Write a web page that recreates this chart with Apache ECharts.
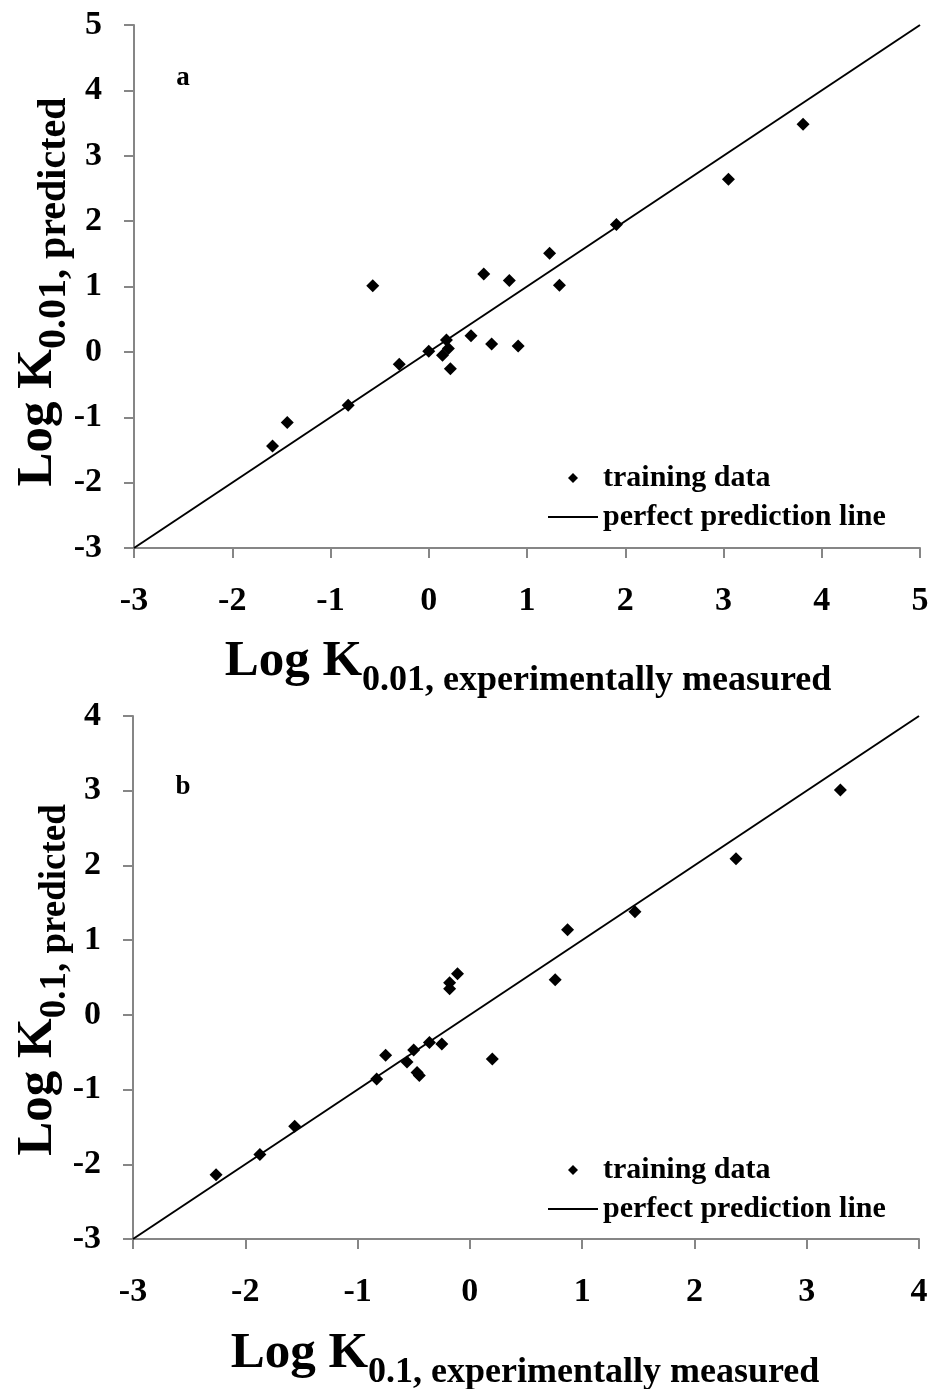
<!DOCTYPE html>
<html><head><meta charset="utf-8">
<script src="https://cdn.jsdelivr.net/npm/echarts@6/dist/echarts.min.js"></script>
<style>html,body{margin:0;padding:0;background:#fff}#c{width:933px;height:1389px}</style>
</head><body><div id="c"></div>
<script>
// Panel a: Log K0.01
var aMeasured  = [-1.59,-1.44,-0.82,-0.57,-0.30,0.00,0.14,0.18,0.20,0.22,0.43,0.64,0.91,0.56,0.82,1.23,1.33,1.91,3.05,3.81];
var aPredicted = [-1.44,-1.08,-0.815,1.01,-0.19,0.01,-0.05,0.18,0.05,-0.26,0.245,0.12,0.09,1.19,1.09,1.51,1.02,1.95,2.64,3.48];
var aLine = [-3, 5];
// Panel b: Log K0.1
var bMeasured  = [-2.26,-1.87,-1.56,-0.83,-0.75,-0.56,-0.50,-0.47,-0.45,-0.36,-0.25,-0.18,-0.18,-0.11,0.20,0.76,0.87,1.47,2.37,3.30];
var bPredicted = [-2.14,-1.87,-1.49,-0.86,-0.54,-0.63,-0.47,-0.77,-0.81,-0.37,-0.39,0.43,0.35,0.55,-0.59,0.47,1.14,1.38,2.09,3.01];
var bLine = [-3, 4];
var seriesNames = ['training data', 'perfect prediction line'];

function pairs(xs, ys){ return xs.map(function(x,i){ return [x, ys[i]]; }); }
var FONT = '"Liberation Serif","Times New Roman",serif';
var AX = '#868686';

function axis(min, max, gi, isX){
  return {
    type:'value', gridIndex:gi, min:min, max:max, interval:1,
    axisLine:{show:true, onZero:false, lineStyle:{color:AX, width:2}},
    axisTick:{show:true, inside:false, length:10, lineStyle:{color:AX, width:2}},
    splitLine:{show:false},
    axisLabel:{fontFamily:FONT, fontWeight:'bold', fontSize:34, color:'#000', margin: isX ? 36 : 32}
  };
}

function rich(bigSize, subSize, drop){
  return {
    big:{fontFamily:FONT, fontWeight:'bold', fontSize:bigSize, color:'#000', lineHeight:bigSize+8, verticalAlign:'top'},
    sub:{fontFamily:FONT, fontWeight:'bold', fontSize:subSize, color:'#000', lineHeight:subSize, padding:[drop,0,0,0]}
  };
}
function title(txt, sub, x, y, rot, r){
  return {type:'text', x:x, y:y, rotation:rot, style:{text:'{big|'+txt+'}{sub|'+sub+'}', rich:r, align:'center', verticalAlign:'middle'}};
}
function label(t, x, y){
  return {type:'text', x:x, y:y, style:{text:t, fontFamily:FONT, fontWeight:'bold', fontSize:27, fill:'#000', align:'center', verticalAlign:'middle'}};
}
function legend(top){
  return {
    orient:'vertical', left:543, top:top, itemWidth:50, itemHeight:10, itemGap:9,
    symbolKeepAspect:true,
    textStyle:{fontFamily:FONT, fontWeight:'bold', fontSize:30, color:'#000', lineHeight:30},
    data:[{name:seriesNames[0], icon:'path://M0,-1L1,0L0,1L-1,0Z'},
          {name:seriesNames[1], icon:'path://M0,0H50V2H0Z'}]
  };
}

var option = {
  animation:false,
  backgroundColor:'#fff',
  grid:[
    {left:134, top:25, width:786, height:523},
    {left:133, top:716, width:786, height:523}
  ],
  xAxis:[axis(-3,5,0,true), axis(-3,4,1,true)],
  yAxis:[axis(-3,5,0,false), axis(-3,4,1,false)],
  legend:[legend(458), legend(1150)],
  series:[
    {name:seriesNames[1], type:'line', xAxisIndex:0, yAxisIndex:0, data:pairs(aLine,aLine), symbol:'none', lineStyle:{color:'#000', width:2}, itemStyle:{color:'#000'}},
    {name:seriesNames[0], type:'scatter', xAxisIndex:0, yAxisIndex:0, data:pairs(aMeasured,aPredicted), symbol:'diamond', symbolSize:13, itemStyle:{color:'#000', opacity:1}},
    {name:seriesNames[1], type:'line', xAxisIndex:1, yAxisIndex:1, data:pairs(bLine,bLine), symbol:'none', lineStyle:{color:'#000', width:2}, itemStyle:{color:'#000'}},
    {name:seriesNames[0], type:'scatter', xAxisIndex:1, yAxisIndex:1, data:pairs(bMeasured,bPredicted), symbol:'diamond', symbolSize:13, itemStyle:{color:'#000', opacity:1}}
  ],
  graphic:[
    label('a', 183, 78),
    label('b', 183, 787),
    title('Log K', '0.01, experimentally measured', 528, 666, 0, rich(51, 36, 30)),
    title('Log K', '0.1, experimentally measured', 525, 1358, 0, rich(51, 36, 30)),
    title('Log K', '0.01, predicted', 42, 292, Math.PI/2, rich(51, 40, 26)),
    title('Log K', '0.1, predicted', 42, 980, Math.PI/2, rich(51, 37, 27))
  ]
};
var chart = echarts.init(document.getElementById('c'), null, {renderer:'canvas'});
chart.setOption(option);
</script>
</body></html>
